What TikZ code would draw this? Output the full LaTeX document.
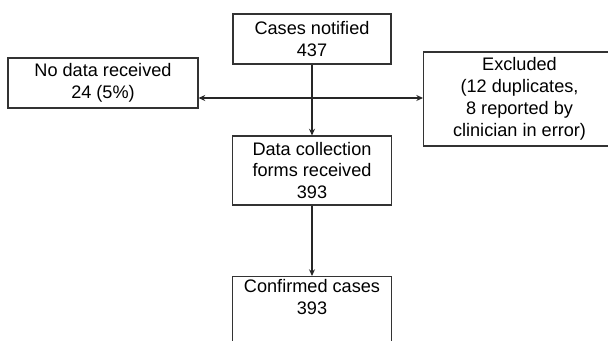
\documentclass[tikz,border=0pt]{standalone}
\usepackage{fontspec}
\setmainfont{Liberation Sans}
\usetikzlibrary{arrows.meta}
\begin{document}
\begin{tikzpicture}[x=0.75pt,y=-0.75pt,
  box/.style={draw=black!80, line width=0.8pt, align=center, inner sep=2pt,
    font=\fontsize{13.6}{16.4}\selectfont},
  arr/.style={line width=1.1pt, draw=black!85, -{Stealth[length=5pt,width=4.5pt]}}]
  \clip (0,0) rectangle (608,341);
  \node (notified) at (312,39) [box, minimum width=118.5pt, minimum height=37.5pt] {Cases notified\\437};
  \node (nodata) at (103,83) [box, minimum width=142.5pt, minimum height=37.5pt] {No data received\\24 (5\%)};
  \node (excluded) at (423,99) [box, anchor=west, minimum width=144pt, minimum height=70.5pt] {Excluded\\(12 duplicates,\\8 reported by\\clinician in error)};
  \node (forms) at (312,170.5) [box, minimum width=119.25pt, minimum height=51.75pt] {Data collection\\forms received\\393};
  \node (confirmed) at (312,276) [box, anchor=north, minimum width=119.25pt, minimum height=51.75pt] {Confirmed cases\\393\\\strut};
  \coordinate (split) at (notified.south |- 0,98);
  \draw [arr] (notified) -- (forms);
  \draw [arr] (split) -- (split -| excluded.west);
  \draw [arr] (split) -- (split -| nodata.east);
  \draw [arr] (forms) -- (confirmed);
\end{tikzpicture}
\end{document}
